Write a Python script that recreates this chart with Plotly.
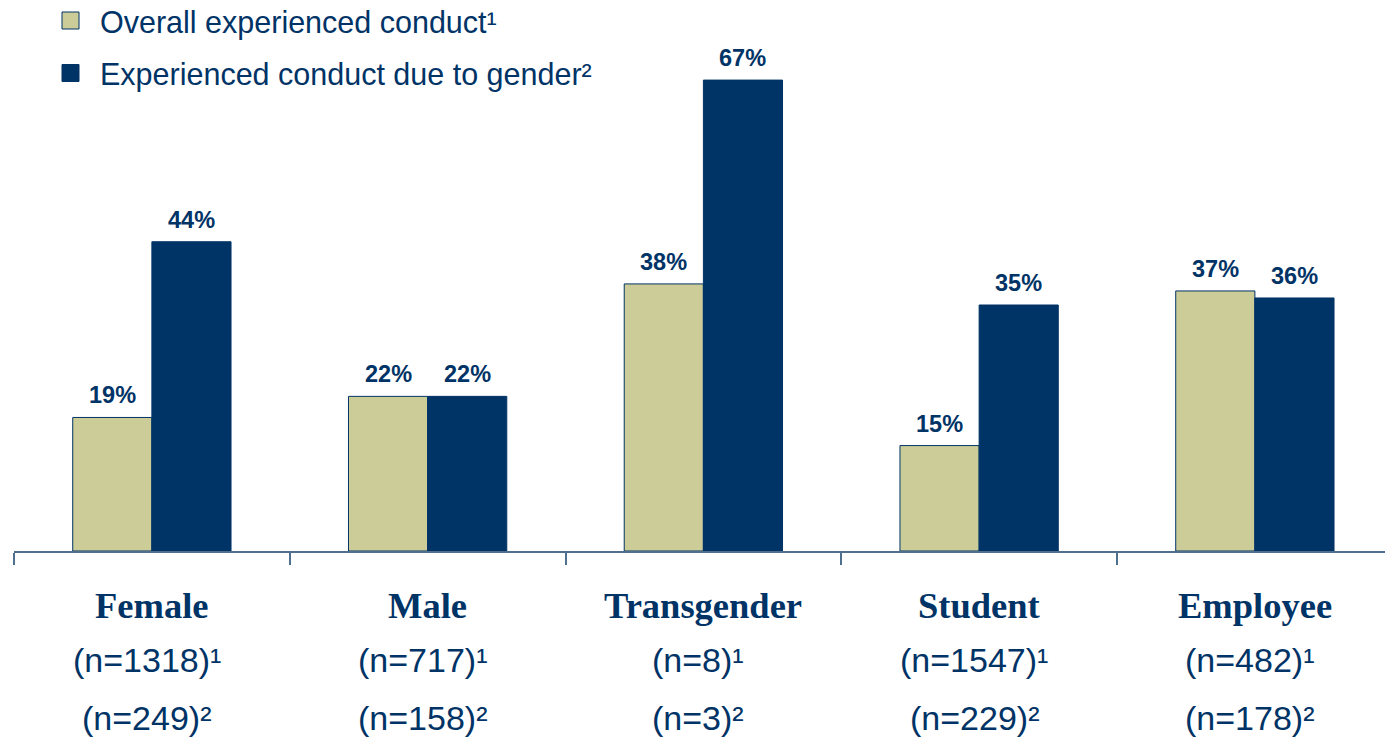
import plotly.graph_objects as go

categories = ["Female", "Male", "Transgender", "Student", "Employee"]
overall = [19, 22, 38, 15, 37]
due_gender = [44, 22, 67, 35, 36]
n_overall = ["(n=1318)¹", "(n=717)¹", "(n=8)¹", "(n=1547)¹", "(n=482)¹"]
n_gender = ["(n=249)²", "(n=158)²", "(n=3)²", "(n=229)²", "(n=178)²"]
series_names = ["Overall experienced conduct¹", "Experienced conduct due to gender²"]

NAVY = "#003366"
OLIVE = "#CCCC99"
colors = [OLIVE, NAVY]

W, H = 1387, 741
ML, MR, MT, MB = 14, 2, 59, 190
PW, PH = W - ML - MR, H - MT - MB
CAT_PX = 275.75                     # width of one category slot in pixels
X_MAX = -0.5 + PW / CAT_PX          # right end of the visible x range


def px_x(page_x):
    return (page_x - ML) / PW


def px_y(page_y):
    return (H - MB - page_y) / PH


fig = go.Figure()
for vals, name, col in zip([overall, due_gender], series_names, colors):
    fig.add_trace(go.Bar(
        x=categories, y=vals, name=name, showlegend=False,
        marker=dict(color=col, line=dict(color=NAVY, width=1)),
        hovertemplate="%{x}: %{y}%<extra>" + name + "</extra>",
    ))

# value labels above bars
bar_px = CAT_PX * (1 - 0.426) / 2
for vals, sign in zip([overall, due_gender], [-1, 1]):
    for c, v in zip(categories, vals):
        fig.add_annotation(x=c, xref="x", y=v, yref="y", text=f"<b>{v}%</b>",
                           showarrow=False, xshift=sign * bar_px / 2, yanchor="bottom",
                           yshift=7,
                           font=dict(family="Liberation Sans, Arial", size=23.5, color=NAVY))

# category labels
for i, c in enumerate(categories):
    fig.add_annotation(x=c, xref="x", y=-0.11, yref="paper", text=f"<b>{c}</b>",
                       showarrow=False, yanchor="middle",
                       font=dict(family="Liberation Serif, Times New Roman", size=36.5, color=NAVY))
    fig.add_annotation(x=c, xref="x", y=-0.2215, yref="paper", text=n_overall[i],
                       showarrow=False, yanchor="middle", xshift=-5,
                       font=dict(family="Liberation Sans, Arial", size=34, color=NAVY))
    fig.add_annotation(x=c, xref="x", y=-0.339, yref="paper", text=n_gender[i],
                       showarrow=False, yanchor="middle", xshift=-5,
                       font=dict(family="Liberation Sans, Arial", size=34, color=NAVY))

# legend (drawn manually for larger symbols)
leg_rows = [(12, 29, 22), (64.5, 81.5, 75)]
for (y0, y1, ytxt), name, col in zip(leg_rows, series_names, colors):
    fig.add_shape(type="rect", xref="paper", yref="paper",
                  x0=px_x(62), x1=px_x(79), y0=px_y(y1), y1=px_y(y0),
                  fillcolor=col, line=dict(color=NAVY, width=1))
    fig.add_annotation(x=px_x(98), xref="paper", y=px_y(ytxt), yref="paper", text=name,
                       showarrow=False, xanchor="left", yanchor="middle",
                       font=dict(family="Liberation Sans, Arial", size=30.5, color=NAVY))

fig.update_layout(
    width=W, height=H,
    margin=dict(l=ML, r=MR, t=MT, b=MB),
    paper_bgcolor="white", plot_bgcolor="white",
    barmode="group", bargap=0.426, bargroupgap=0,
    showlegend=False,
    xaxis=dict(showticklabels=False, showline=True, linecolor="#4F6F8F", linewidth=2,
               ticks="outside", tickson="boundaries", ticklen=12, tickcolor="#4F6F8F",
               tickwidth=1.5, showgrid=False, range=[-0.5, X_MAX], fixedrange=True),
    yaxis=dict(visible=False, range=[0, 70], showgrid=False, zeroline=False, fixedrange=True),
)

fig.write_html("out.html", config={"displayModeBar": False},
               post_script="document.body.style.margin='0';")
